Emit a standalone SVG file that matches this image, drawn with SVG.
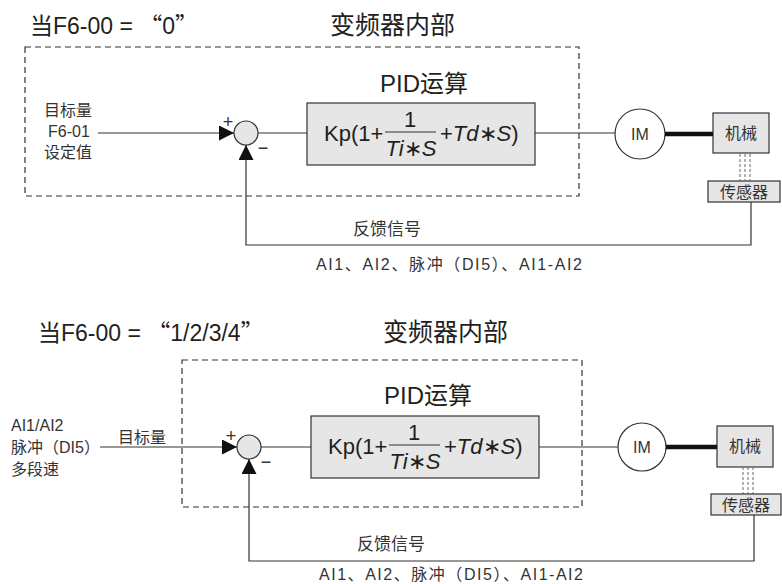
<svg xmlns="http://www.w3.org/2000/svg" width="782" height="584" viewBox="0 0 782 584">
<style>
text{font-family:"Liberation Sans","Noto Sans CJK SC",sans-serif;fill:#231f20}
.title{font-size:23px}
.q{font-family:"Noto Sans CJK SC",sans-serif}
.sec{font-size:25px}
.pid{font-size:24px}
.lbl{font-size:16px;fill:#333}
.fb{font-size:17px;fill:#333}
.sg{font-size:18px;fill:#333}
.frm{font-size:22px}
.it{font-style:italic}
.box{fill:#e6e6e6;stroke:#333;stroke-width:1.2}
.sum{fill:#e6e6e6;stroke:#333;stroke-width:1.2}
.im{fill:#fff;stroke:#333;stroke-width:1.2}
.dash{fill:none;stroke:#333;stroke-width:1.2;stroke-dasharray:6 4}
.ln{fill:none;stroke:#333;stroke-width:1.2}
.thick{fill:none;stroke:#111;stroke-width:4.5}
.dl{fill:none;stroke:#666;stroke-width:1;stroke-dasharray:3 2}
</style>
<defs>
<marker id="arr" viewBox="0 0 10 10" refX="10" refY="5" markerWidth="15" markerHeight="15" markerUnits="userSpaceOnUse" orient="auto">
<path d="M0,0 L10,5 L0,10 z" fill="#111"/>
</marker>
</defs>

<!-- ===== TOP SECTION ===== -->
<g id="top-title">
<text class="title" x="30" y="34">当F6-00 = <tspan class="q">“</tspan>0<tspan class="q">”</tspan></text>
<text class="sec" x="330" y="34">变频器内部</text>
</g>
<g id="top-inverter">
<rect class="dash" x="25" y="47" width="554" height="149"/>
</g>
<g id="top-input">
<text class="lbl" x="68" y="116" text-anchor="middle" font-size="17">目标量</text>
<text class="lbl" x="69" y="137" text-anchor="middle" font-size="17">F6-01</text>
<text class="lbl" x="68" y="158" text-anchor="middle" font-size="17">设定值</text>
</g>
<g id="top-sum">
<circle class="sum" cx="246" cy="133" r="12"/>
<text class="sg" x="228" y="128" text-anchor="middle">+</text>
<text class="sg" x="263" y="154" text-anchor="middle">−</text>
</g>
<g id="top-pid">
<text class="pid" x="380" y="92">PID运算</text>
<rect class="box" x="307" y="103" width="228" height="62"/>
<text class="frm" x="324" y="141">Kp(1+</text>
<line class="ln" x1="385" y1="132" x2="436" y2="132"/>
<text class="frm" x="410" y="127" text-anchor="middle">1</text>
<text class="frm" x="411" y="156" text-anchor="middle"><tspan class="it">Ti</tspan>∗<tspan class="it">S</tspan></text>
<text class="frm" x="440" y="141">+<tspan class="it">Td</tspan>∗<tspan class="it">S</tspan>)</text>
</g>
<g id="top-im">
<circle class="im" cx="640" cy="134" r="25"/>
<text class="lbl" x="640" y="140" text-anchor="middle" font-size="16">IM</text>
</g>
<g id="top-mech">
<rect class="box" x="713" y="113" width="56" height="40"/>
<text class="lbl" x="741" y="139" text-anchor="middle" font-size="18">机械</text>
</g>
<g id="top-sensor">
<rect class="box" x="708" y="181" width="72" height="21"/>
<text class="lbl" x="744" y="198" text-anchor="middle" font-size="18">传感器</text>
</g>
<g id="top-feedback-labels">
<text class="fb" x="353" y="235">反馈信号</text>
<text class="lbl" x="316" y="270" textLength="266" lengthAdjust="spacing">AI1、AI2、脉冲（DI5）、AI1-AI2</text>
</g>
<g id="top-connectors">
<line class="ln" x1="98" y1="133" x2="234" y2="133" marker-end="url(#arr)"/>
<line class="ln" x1="258" y1="133" x2="307" y2="133"/>
<line class="ln" x1="535" y1="133" x2="615" y2="133"/>
<line class="thick" x1="665" y1="134" x2="713" y2="134"/>
<line class="dl" x1="740" y1="154" x2="740" y2="181"/>
<line class="dl" x1="745" y1="154" x2="745" y2="181"/>
<line class="dl" x1="750" y1="154" x2="750" y2="181"/>
<polyline class="ln" points="751,202 751,245 246,245 246,145" marker-end="url(#arr)"/>
</g>

<!-- ===== BOTTOM SECTION ===== -->
<g id="bot-title">
<text class="title" x="38" y="341">当F6-00 = <tspan class="q">“</tspan>1/2/3/4<tspan class="q">”</tspan></text>
<text class="sec" x="383" y="341">变频器内部</text>
</g>
<g id="bot-inverter">
<rect class="dash" x="182" y="360" width="400" height="147"/>
</g>
<g id="bot-input">
<text class="lbl" x="11" y="431" font-size="17">AI1/AI2</text>
<text class="lbl" x="11" y="453">脉冲（DI5）</text>
<text class="lbl" x="11" y="475">多段速</text>
<text class="lbl" x="118" y="443">目标量</text>
</g>
<g id="bot-sum">
<circle class="sum" cx="249" cy="447" r="12"/>
<text class="sg" x="231" y="442" text-anchor="middle">+</text>
<text class="sg" x="266" y="468" text-anchor="middle">−</text>
</g>
<g id="bot-pid">
<text class="pid" x="384" y="404">PID运算</text>
<rect class="box" x="311" y="416" width="228" height="62"/>
<text class="frm" x="328" y="454">Kp(1+</text>
<line class="ln" x1="389" y1="445" x2="440" y2="445"/>
<text class="frm" x="414" y="440" text-anchor="middle">1</text>
<text class="frm" x="415" y="469" text-anchor="middle"><tspan class="it">Ti</tspan>∗<tspan class="it">S</tspan></text>
<text class="frm" x="444" y="454">+<tspan class="it">Td</tspan>∗<tspan class="it">S</tspan>)</text>
</g>
<g id="bot-im">
<circle class="im" cx="642" cy="447" r="24"/>
<text class="lbl" x="642" y="453" text-anchor="middle" font-size="16">IM</text>
</g>
<g id="bot-mech">
<rect class="box" x="717" y="426" width="56" height="41"/>
<text class="lbl" x="745" y="452" text-anchor="middle" font-size="18">机械</text>
</g>
<g id="bot-sensor">
<rect class="box" x="711" y="494" width="70" height="21"/>
<text class="lbl" x="746" y="511" text-anchor="middle" font-size="18">传感器</text>
</g>
<g id="bot-feedback-labels">
<text class="fb" x="357" y="550">反馈信号</text>
<text class="lbl" x="319" y="580" textLength="264" lengthAdjust="spacing">AI1、AI2、脉冲（DI5）、AI1-AI2</text>
</g>
<g id="bot-connectors">
<line class="ln" x1="100" y1="447" x2="237" y2="447" marker-end="url(#arr)"/>
<line class="ln" x1="261" y1="447" x2="311" y2="447"/>
<line class="ln" x1="539" y1="447" x2="618" y2="447"/>
<line class="thick" x1="666" y1="447" x2="717" y2="447"/>
<line class="dl" x1="743" y1="467" x2="743" y2="494"/>
<line class="dl" x1="748" y1="467" x2="748" y2="494"/>
<line class="dl" x1="753" y1="467" x2="753" y2="494"/>
<polyline class="ln" points="754,515 754,561 249,561 249,459" marker-end="url(#arr)"/>
</g>
</svg>
